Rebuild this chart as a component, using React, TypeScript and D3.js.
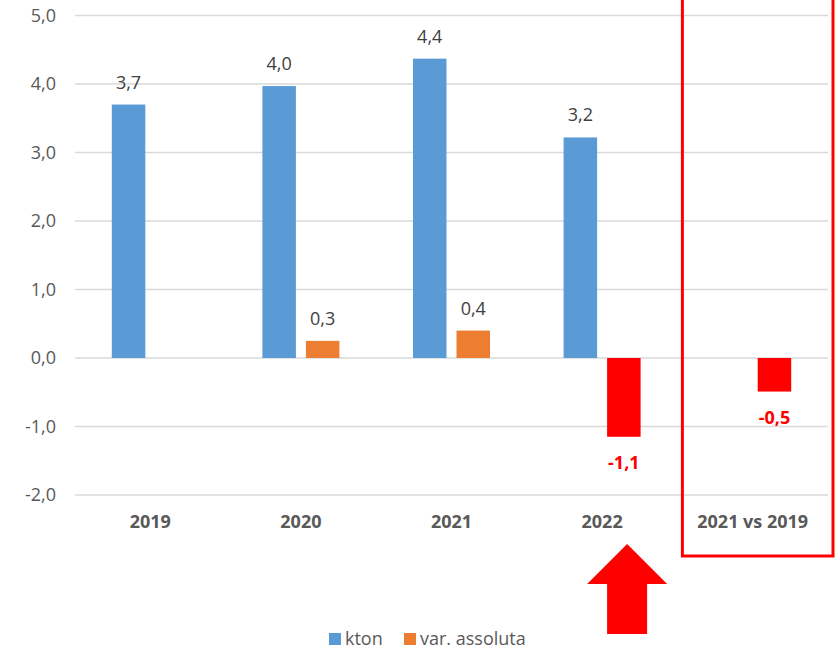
// Bar chart: kton per year + absolute variation, with highlight box and arrow
import * as d3 from 'd3';

const categories = ['2019', '2020', '2021', '2022', '2021 vs 2019'];
const ktonValues: (number | null)[] = [3.7, 3.97, 4.37, 3.22, null];
const varValues: (number | null)[] = [null, 0.25, 0.4, -1.15, -0.49];
const yTicks = [-2, -1, 0, 1, 2, 3, 4, 5];
const seriesNames = ['kton', 'var. assoluta'];

const WIDTH = 836;
const HEIGHT = 650;
const BLUE = '#5B9BD5';
const ORANGE = '#ED7D31';
const RED = '#FF0000';
const FONT = '"Open Sans", sans-serif';
const FS = 18;

const fmt = (v: number) => v.toFixed(1).replace('.', ',');

const App = () => {
  const x0 = d3.scaleBand<string>().domain(categories).range([75, 828]).padding(0);
  const x1 = d3
    .scaleBand<string>()
    .domain(seriesNames)
    .range([0, x0.bandwidth()])
    .paddingInner(0.23)
    .paddingOuter(0.846);
  const y = d3.scaleLinear().domain([-2, 5]).range([495, 15.5]);

  const bars: { key: string; x: number; v: number; color: string; neg: boolean }[] = [];
  categories.forEach((c, i) => {
    const k = ktonValues[i];
    if (k != null) bars.push({ key: c + 'k', x: x0(c)! + x1('kton')!, v: k, color: BLUE, neg: false });
    const v = varValues[i];
    if (v != null)
      bars.push({
        key: c + 'v',
        x: x0(c)! + x1('var. assoluta')!,
        v,
        color: v < 0 ? RED : ORANGE,
        neg: v < 0,
      });
  });

  const bw = x1.bandwidth();
  const boxCat = categories[4];
  const boxX = x0(boxCat)! + 5;

  // arrow under 2022, pointing up
  const ax = x0('2022')! + x0.bandwidth() / 2 + 25;
  const arrowPath = d3.line()([
    [ax, 544],
    [ax + 40, 584],
    [ax + 20, 584],
    [ax + 20, 634],
    [ax - 20, 634],
    [ax - 20, 584],
    [ax - 40, 584],
  ]) + 'Z';

  return (
    <svg
      width={WIDTH}
      height={HEIGHT}
      style={{ position: 'absolute', left: 0, top: 0, background: '#fff' }}
      fontFamily={FONT}
    >
      {/* gridlines and y labels */}
      {yTicks.map((t) => (
        <g key={t}>
          <line x1={75} x2={828} y1={y(t)} y2={y(t)} stroke="#D9D9D9" strokeWidth={1.5} />
          <text x={56} y={y(t)} dy="0.35em" textAnchor="end" fontSize={FS} fill="#595959">
            {fmt(t)}
          </text>
        </g>
      ))}

      {/* bars */}
      {bars.map((b) => (
        <rect
          key={b.key}
          x={b.x}
          width={bw}
          y={Math.min(y(b.v), y(0))}
          height={Math.abs(y(b.v) - y(0))}
          fill={b.color}
        />
      ))}

      {/* value labels */}
      {bars.map((b) => (
        <text
          key={b.key + 'l'}
          x={b.x + bw / 2}
          y={b.neg ? y(b.v) + 32 : y(b.v) - 16}
          textAnchor="middle"
          fontSize={FS}
          fontWeight={b.neg ? 'bold' : 'normal'}
          fill={b.neg ? RED : '#404040'}
        >
          {fmt(b.v)}
        </text>
      ))}

      {/* category labels */}
      {categories.map((c) => (
        <text
          key={c}
          x={x0(c)! + x0.bandwidth() / 2}
          y={528}
          textAnchor="middle"
          fontSize={FS}
          fontWeight="bold"
          fill="#595959"
        >
          {c}
        </text>
      ))}

      {/* highlight box */}
      <rect x={boxX} y={-2} width={x0.bandwidth()} height={558} fill="none" stroke={RED} strokeWidth={3} />

      {/* arrow */}
      <path d={arrowPath} fill={RED} />

      {/* legend */}
      <rect x={329} y={633} width={12} height={12} fill={BLUE} />
      <text x={345} y={645} fontSize={FS} fill="#595959">
        {seriesNames[0]}
      </text>
      <rect x={404} y={633} width={12} height={12} fill={ORANGE} />
      <text x={420} y={645} fontSize={FS} fill="#595959">
        {seriesNames[1]}
      </text>
    </svg>
  );
};

export default App;
